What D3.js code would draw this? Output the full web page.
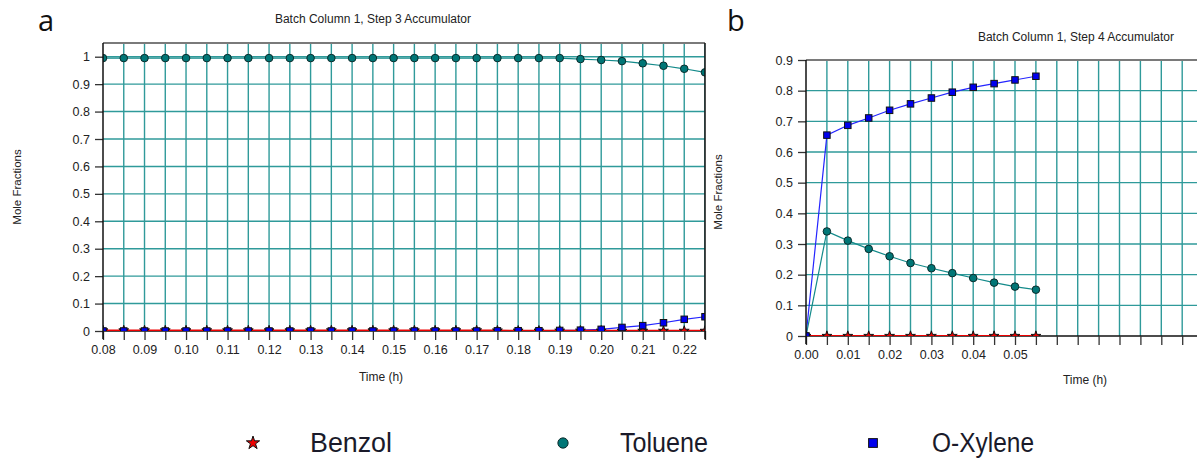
<!DOCTYPE html>
<html>
<head>
<meta charset="utf-8">
<script src="https://cdn.jsdelivr.net/npm/d3@7"></script>
<style>
  body { margin: 0; background: #fff; }
  svg { display: block; font-family: "Liberation Sans", Arial, sans-serif; }
</style>
</head>
<body>
<svg id="chart" width="1197" height="458"></svg>
<script>
// ---- datos panel a (Step 3) ----
const aTime = [0.08, 0.085, 0.09, 0.095, 0.10, 0.105, 0.11, 0.115, 0.12, 0.125,
               0.13, 0.135, 0.14, 0.145, 0.15, 0.155, 0.16, 0.165, 0.17, 0.175,
               0.18, 0.185, 0.19, 0.195, 0.20, 0.205, 0.21, 0.215, 0.22, 0.225];
const aBenzol = [0.002, 0.002, 0.002, 0.002, 0.002, 0.002, 0.002, 0.002, 0.002, 0.002,
                 0.002, 0.002, 0.002, 0.002, 0.002, 0.002, 0.002, 0.002, 0.002, 0.0015,
                 0.001, 0.001, 0.001, 0.001, 0.001, 0.0005, 0.0005, 0.0005, 0.0005, 0.0005];
const aToluene = [0.995, 0.995, 0.995, 0.995, 0.995, 0.995, 0.995, 0.995, 0.995, 0.995,
                  0.995, 0.995, 0.995, 0.995, 0.995, 0.995, 0.995, 0.995, 0.995, 0.995,
                  0.995, 0.995, 0.995, 0.9915, 0.988, 0.984, 0.976, 0.967, 0.956, 0.943];
const aXylene = [0, 0, 0, 0, 0, 0, 0, 0, 0, 0,
                 0, 0, 0, 0, 0, 0, 0, 0, 0, 0.0005,
                 0.001, 0.001, 0.002, 0.003, 0.006, 0.013, 0.0195, 0.030, 0.0426, 0.052];
const aXLabels = ["0.08", "0.09", "0.10", "0.11", "0.12", "0.13", "0.14", "0.15",
                  "0.16", "0.17", "0.18", "0.19", "0.20", "0.21", "0.22"];
const aYLabels = ["0", "0.1", "0.2", "0.3", "0.4", "0.5", "0.6", "0.7", "0.8", "0.9", "1"];

// ---- datos panel b (Step 4) ----
const bTime = [0, 0.005, 0.01, 0.015, 0.02, 0.025, 0.03, 0.035, 0.04, 0.045, 0.05, 0.055];
const bBenzol = [0, 0, 0, 0, 0, 0, 0, 0, 0, 0, 0, 0];
const bToluene = [0, 0.341, 0.311, 0.284, 0.260, 0.238, 0.221, 0.205, 0.189, 0.174, 0.161, 0.151];
const bXylene = [0, 0.655, 0.687, 0.711, 0.736, 0.757, 0.776, 0.795, 0.811, 0.823, 0.835, 0.847];
const bXLabels = ["0.00", "0.01", "0.02", "0.03", "0.04", "0.05"];
const bYLabels = ["0", "0.1", "0.2", "0.3", "0.4", "0.5", "0.6", "0.7", "0.8", "0.9"];

const legendNames = ["Benzol", "Toluene", "O-Xylene"];

const svg = d3.select("#chart");
const gridColor = "#2f9a9a";

// simbolos de cada serie
function drawMarker(g, kind, cx, cy, big) {
    const k = big ? 1.35 : 1;
    if (kind === "Benzol") {
        g.append("path")
            .attr("d", d3.symbol().type(d3.symbolStar).size(30 * k * k)())
            .attr("transform", `translate(${cx},${cy})`)
            .attr("fill", "#ee0000").attr("stroke", "#111").attr("stroke-width", 1);
    } else if (kind === "Toluene") {
        g.append("circle")
            .attr("cx", cx).attr("cy", cy).attr("r", 3.8 * k)
            .attr("fill", "#007676").attr("stroke", "#0b2b2b").attr("stroke-width", 1);
    } else {
        const s = 6.5 * k;
        g.append("rect")
            .attr("x", cx - s / 2).attr("y", cy - s / 2).attr("width", s).attr("height", s)
            .attr("fill", "#0000ee").attr("stroke", "#111").attr("stroke-width", 1);
    }
}

function drawPanel(cfg) {
    const x = d3.scaleLinear().domain(cfg.xDomain).range(cfg.xRange);
    const y = d3.scaleLinear().domain(cfg.yDomain).range(cfg.yRange);
    const left = cfg.xRange[0], right = Math.min(cfg.xRange[1], 1197);
    const top = cfg.yRange[1], bottom = cfg.yRange[0];

    const g = svg.append("g");
    const clipId = "clip-" + cfg.id;
    g.append("clipPath").attr("id", clipId)
        .append("rect").attr("x", left).attr("y", top)
        .attr("width", right - left).attr("height", bottom - top);

    // rejilla
    const xTicks = d3.range(0, 60).map(i => +(cfg.xDomain[0] + i * 0.005).toFixed(3))
        .filter(v => v <= cfg.xDomain[1] + 1e-9);
    const yTicks = cfg.yLabels.map(t => +t);

    const grid = g.append("g").attr("clip-path", `url(#${clipId})`);
    grid.selectAll(".vg").data(xTicks.slice(1)).enter().append("line")
        .attr("x1", d => x(d)).attr("x2", d => x(d))
        .attr("y1", top).attr("y2", bottom)
        .attr("stroke", gridColor).attr("stroke-width", 1.4);
    grid.selectAll(".hg").data(yTicks.slice(1)).enter().append("line")
        .attr("x1", left).attr("x2", right)
        .attr("y1", d => y(d)).attr("y2", d => y(d))
        .attr("stroke", gridColor).attr("stroke-width", 1.4);

    // linea base del eje x (debajo de las series)
    g.append("line").attr("x1", left).attr("x2", right).attr("y1", bottom).attr("y2", bottom)
        .attr("stroke", "#111").attr("stroke-width", 1.5);

    // series
    const series = [
        { name: "O-Xylene", vals: cfg.xylene, color: "#2424ff", w: 1.2 },
        { name: "Benzol", vals: cfg.benzol, color: "#ee0000", w: 2 },
        { name: "Toluene", vals: cfg.toluene, color: "#138a8a", w: 1.2 }
    ];
    const plot = g.append("g").attr("clip-path", `url(#${clipId})`);
    series.forEach(s => {
        const line = d3.line().x((d, i) => x(cfg.time[i])).y(d => y(d));
        plot.append("path").datum(s.vals)
            .attr("d", line).attr("fill", "none")
            .attr("stroke", s.color).attr("stroke-width", s.w);
    });
    ["Benzol", "Toluene", "O-Xylene"].forEach(name => {
        const s = series.find(d => d.name === name);
        s.vals.forEach((v, i) => drawMarker(plot, name, x(cfg.time[i]), y(v), false));
    });

    // ejes
    const xAxis = d3.axisBottom(x).tickValues(xTicks).tickSize(9)
        .tickFormat(d => {
            const lab = d.toFixed(2);
            return (Math.abs(d * 100 - Math.round(d * 100)) < 1e-6 && cfg.xLabels.includes(lab)) ? lab : "";
        });
    const ax = g.append("g").attr("transform", `translate(0,${bottom})`).call(xAxis);
    ax.select(".domain").remove();
    ax.selectAll(".tick line").attr("stroke", "#333").attr("stroke-width", 1.3);
    ax.selectAll(".tick text").attr("font-size", 12.5).attr("fill", "#222")
        .attr("font-family", "Liberation Sans, Arial, sans-serif").attr("dy", "0.85em");

    const yAxis = d3.axisLeft(y).tickValues(yTicks).tickSize(8).tickPadding(5)
        .tickFormat((d, i) => cfg.yLabels[i]);
    const ay = g.append("g").attr("transform", `translate(${left},0)`).call(yAxis);
    ay.select(".domain").remove();
    ay.selectAll(".tick line").attr("stroke", "#333").attr("stroke-width", 1.3);
    ay.selectAll(".tick text").attr("font-size", 12.5).attr("fill", "#222")
        .attr("font-family", "Liberation Sans, Arial, sans-serif");

    // marco
    g.append("line").attr("x1", left).attr("x2", right).attr("y1", top).attr("y2", top)
        .attr("stroke", "#7a7a7a").attr("stroke-width", 2);
    g.append("line").attr("x1", left).attr("x2", left).attr("y1", top).attr("y2", bottom + 8)
        .attr("stroke", "#111").attr("stroke-width", 1.5);
    if (cfg.rightBorder) {
        g.append("line").attr("x1", right).attr("x2", right).attr("y1", top).attr("y2", bottom + 8)
            .attr("stroke", "#111").attr("stroke-width", 1.5);
    }

    // textos
    g.append("text").attr("x", cfg.titleX).attr("y", cfg.titleY)
        .attr("text-anchor", "middle").attr("font-size", 12).attr("fill", "#222")
        .text(cfg.title);
    g.append("text").attr("transform", `translate(${cfg.yLabelX},${cfg.yLabelY}) rotate(-90)`)
        .attr("text-anchor", "middle").attr("font-size", 11.5).attr("fill", "#222")
        .text("Mole Fractions");
    g.append("text").attr("x", cfg.xLabelX).attr("y", cfg.xLabelY)
        .attr("text-anchor", "middle").attr("font-size", 12).attr("fill", "#222")
        .text("Time (h)");
    g.append("text").attr("x", cfg.letterX).attr("y", cfg.letterY)
        .attr("font-family", "Open Sans, sans-serif").attr("font-size", 29).attr("fill", "#111")
        .text(cfg.letter);
}

drawPanel({
    id: "a", letter: "a", letterX: 38, letterY: 31,
    title: "Batch Column 1, Step 3 Accumulator", titleX: 373, titleY: 23,
    time: aTime, benzol: aBenzol, toluene: aToluene, xylene: aXylene,
    xDomain: [0.08, 0.225], xRange: [103, 705],
    yDomain: [0, 1.05], yRange: [331, 43],
    xLabels: aXLabels, yLabels: aYLabels,
    yLabelX: 21, yLabelY: 187, xLabelX: 381, xLabelY: 381,
    rightBorder: true
});

drawPanel({
    id: "b", letter: "b", letterX: 727, letterY: 31,
    title: "Batch Column 1, Step 4 Accumulator", titleX: 1076, titleY: 41,
    time: bTime, benzol: bBenzol, toluene: bToluene, xylene: bXylene,
    xDomain: [0, 0.1], xRange: [806, 1224],
    yDomain: [0, 0.9], yRange: [336, 60],
    xLabels: bXLabels, yLabels: bYLabels,
    yLabelX: 722, yLabelY: 192, xLabelX: 1085, xLabelY: 384,
    rightBorder: false
});

// leyenda
const legX = [253, 563, 873];
const legTextX = [310, 620, 932];
const legW = [82, 88, 102];
const leg = svg.append("g");
legendNames.forEach((name, i) => {
    drawMarker(leg, name, legX[i], 443, true);
    leg.append("text").attr("x", legTextX[i]).attr("y", 452)
        .attr("font-size", 27).attr("fill", "#1a1a2a")
        .attr("textLength", legW[i]).attr("lengthAdjust", "spacingAndGlyphs")
        .text(name);
});
</script>
</body>
</html>
